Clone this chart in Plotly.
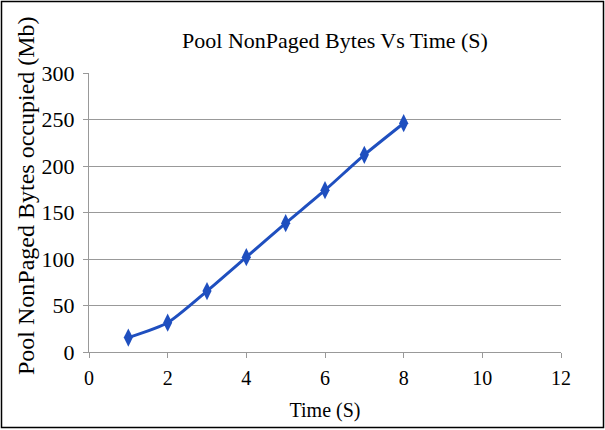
import plotly.graph_objects as go

time_s = [1, 2, 3, 4, 5, 6, 7, 8]
bytes_mb = [15.5, 31.5, 65.5, 102, 138.5, 174, 212, 246]

W, H = 605, 430
L, R, T, B = 89, 44, 73, 78
pw, ph = W - L - R, H - T - B

fig = go.Figure(go.Scatter(
    x=time_s, y=bytes_mb, mode="lines+markers",
    line=dict(color="#1f4fbf", width=3, shape="spline", smoothing=0.6),
    marker=dict(symbol="diamond-tall", size=13, color="#1f4fbf"),
))

font = "Liberation Serif, Times New Roman, serif"
fig.update_layout(
    width=W, height=H, margin=dict(l=L, r=R, t=T, b=B),
    paper_bgcolor="white", plot_bgcolor="white", showlegend=False,
    font=dict(family=font, size=20, color="black"),
    title=dict(text="Pool NonPaged Bytes Vs Time (S)", xref="paper",
               x=(335 - L) / pw, xanchor="center",
               y=1 - 40 / H, yanchor="middle", font=dict(size=22)),
    xaxis=dict(range=[0, 12], tickvals=[0, 2, 4, 6, 8, 10, 12], showgrid=False,
               showline=True, linecolor="#999999", linewidth=1,
               ticks="outside", ticklen=5, tickcolor="#999999",
               tickfont=dict(size=20), ticklabelstandoff=3,
               title=dict(text="Time (S)", standoff=14, font=dict(size=20)),
               zeroline=False),
    yaxis=dict(range=[0, 300], tickvals=[0, 50, 100, 150, 200, 250, 300],
               showgrid=True, gridcolor="#999999", gridwidth=1,
               showline=True, linecolor="#999999", linewidth=1,
               ticks="outside", ticklen=5, tickcolor="#999999",
               tickfont=dict(size=22), ticklabelstandoff=4,
               zeroline=False),
)
fig.add_annotation(text="Pool NonPaged Bytes occupied (Mb)", textangle=-90,
                   xref="paper", yref="paper", showarrow=False,
                   x=(26 - L) / pw, y=(H - B - 196) / ph,
                   xanchor="center", yanchor="middle", font=dict(size=24))
fig.add_shape(type="rect", xref="paper", yref="paper",
              x0=(1.5 - L) / pw, x1=(603.5 - L) / pw,
              y0=(H - B - 427.5) / ph, y1=(H - B - 1.5) / ph,
              line=dict(color="black", width=1.5), layer="above")
fig.write_html("out.html", config={"displayModeBar": False},
               post_script="document.body.style.margin='0';")
